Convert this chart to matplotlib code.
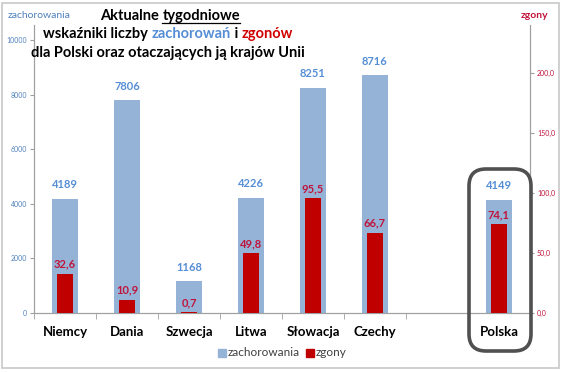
import numpy as np
import matplotlib.pyplot as plt
from matplotlib.patches import FancyBboxPatch, Rectangle

plt.rcParams['font.family'] = ['Lato', 'DejaVu Sans']

# dane
kraje = ['Niemcy', 'Dania', 'Szwecja', 'Litwa', 'Słowacja', 'Czechy', '', 'Polska']
zachorowania = [4189, 7806, 1168, 4226, 8251, 8716, np.nan, 4149]
zgony = [32.6, 10.9, 0.7, 49.8, 95.5, 66.7, np.nan, 74.1]
ticks_lewe = [0, 2000, 4000, 6000, 8000, 10000]
ticks_prawe = [0, 50, 100, 150, 200]

niebieski = '#95B3D7'
czerwony = '#C00000'
nieb_txt = '#4F81BD'
czer_txt = '#C0143C'

W, H = 564, 372
fig = plt.figure(figsize=(5.64, 3.72), dpi=100)
fig.patches.append(Rectangle((2/W, 4/H), 557/W, 365/H, transform=fig.transFigure,
                             fill=False, ec='#C8C8C8', lw=1.2))

ax = fig.add_axes([34/W, 59/H, 496/W, 288/H])
ax2 = ax.twinx()
x = np.arange(len(kraje))

ax.bar(x, zachorowania, width=0.41, color=niebieski, zorder=2)
ax2.bar(x, zgony, width=0.25, color=czerwony, zorder=3)

ax.set_xlim(-0.5, 7.5)
ax.set_ylim(0, 10550)
ax2.set_ylim(0, 240)

for i in range(len(kraje)):
    if np.isnan(zachorowania[i]):
        continue
    ax.annotate('%d' % zachorowania[i], (x[i], zachorowania[i]), xytext=(0, 10), textcoords='offset points',
                ha='center', va='center', color='#558ED5', fontsize=8, fontweight='bold')
    ax2.annotate(('%.1f' % zgony[i]).replace('.', ','), (x[i], zgony[i]), xytext=(0, 7),
                 textcoords='offset points', ha='center', va='center', color=czer_txt,
                 fontsize=8, fontweight='bold', zorder=5)

ax.set_xticks(x)
ax.set_xticklabels(kraje, fontsize=9.5, fontweight='bold')
ax.set_xticks(np.arange(-0.5, 8, 1), minor=True)
ax.tick_params(axis='x', which='major', length=0, pad=9)
ax.tick_params(axis='x', which='minor', length=4, color='#A0A0A0')

ax.set_yticks(ticks_lewe)
ax.set_yticklabels([str(t) for t in ticks_lewe])
ax.tick_params(axis='y', labelsize=5, colors=nieb_txt, length=3, pad=2)
ax.tick_params(axis='y', color='#A0A0A0')
ax2.set_yticks(ticks_prawe)
ax2.set_yticklabels([('%.1f' % t).replace('.', ',') for t in ticks_prawe])
ax2.tick_params(axis='y', labelsize=5, colors=czer_txt, length=3, pad=2)
ax2.tick_params(axis='y', color='#A0A0A0')

for a in (ax, ax2):
    a.spines['top'].set_visible(False)
    for s in ('left', 'right', 'bottom'):
        a.spines[s].set_color('#A0A0A0')
        a.spines[s].set_linewidth(0.8)
    a.patch.set_visible(False)

# opisy osi
fig.text(8/W, 1 - 16/H, 'zachorowania', color=nieb_txt, fontsize=7.5, va='center')
fig.text(535/W, 1 - 16/H, 'zgony', color=czer_txt, fontsize=7.5, fontweight='bold', va='center', ha='center')

# tytul - kawalki tekstu ustawiane jeden po drugim
renderer = fig.canvas.get_renderer()
def linia(czesci, xc, y, fs=10.5):
    teksty = []
    for s, c in czesci:
        t = fig.text(0, 1 - y/H, s, fontsize=fs, fontweight='bold', color=c, va='center')
        teksty.append(t)
    szer = [t.get_window_extent(renderer).width for t in teksty]
    xp = xc - sum(szer) / 2
    for t, w in zip(teksty, szer):
        t.set_x(xp / W)
        xp += w
    return teksty, szer

t, szer = linia([('Aktualne ', 'black'), ('tygodniowe', 'black')], 170, 16)
x0 = t[1].get_position()[0] * W
fig.lines.append(plt.Line2D([x0/W, (x0 + szer[1])/W], [1 - 23/H, 1 - 23/H], transform=fig.transFigure,
                            color='black', lw=0.9))
linia([('wskaźniki liczby ', 'black'), ('zachorowań', '#558ED5'), (' i ', 'black'), ('zgonów', '#D00000')], 168, 34)
linia([('dla Polski oraz otaczających ją krajów Unii', 'black')], 168, 53)

# ramka wokol Polski
fig.patches.append(FancyBboxPatch((469/W, 1 - 351/H), 62/W, 182/H, boxstyle='round,pad=0,rounding_size=0.03',
                                  transform=fig.transFigure, fill=False, ec='#505050', lw=2.6, zorder=10,
                                  mutation_aspect=W/H))

# legenda
fig.patches.append(Rectangle((218/W, 1 - 357/H), 8/W, 8/H, transform=fig.transFigure, color=niebieski))
fig.text(228/W, 1 - 353/H, 'zachorowania', fontsize=8.5, color='#404040', va='center')
fig.patches.append(Rectangle((306/W, 1 - 357/H), 8/W, 8/H, transform=fig.transFigure, color=czerwony))
fig.text(316/W, 1 - 353/H, 'zgony', fontsize=8.5, color='#404040', va='center')

plt.savefig('out.png', dpi=100)
